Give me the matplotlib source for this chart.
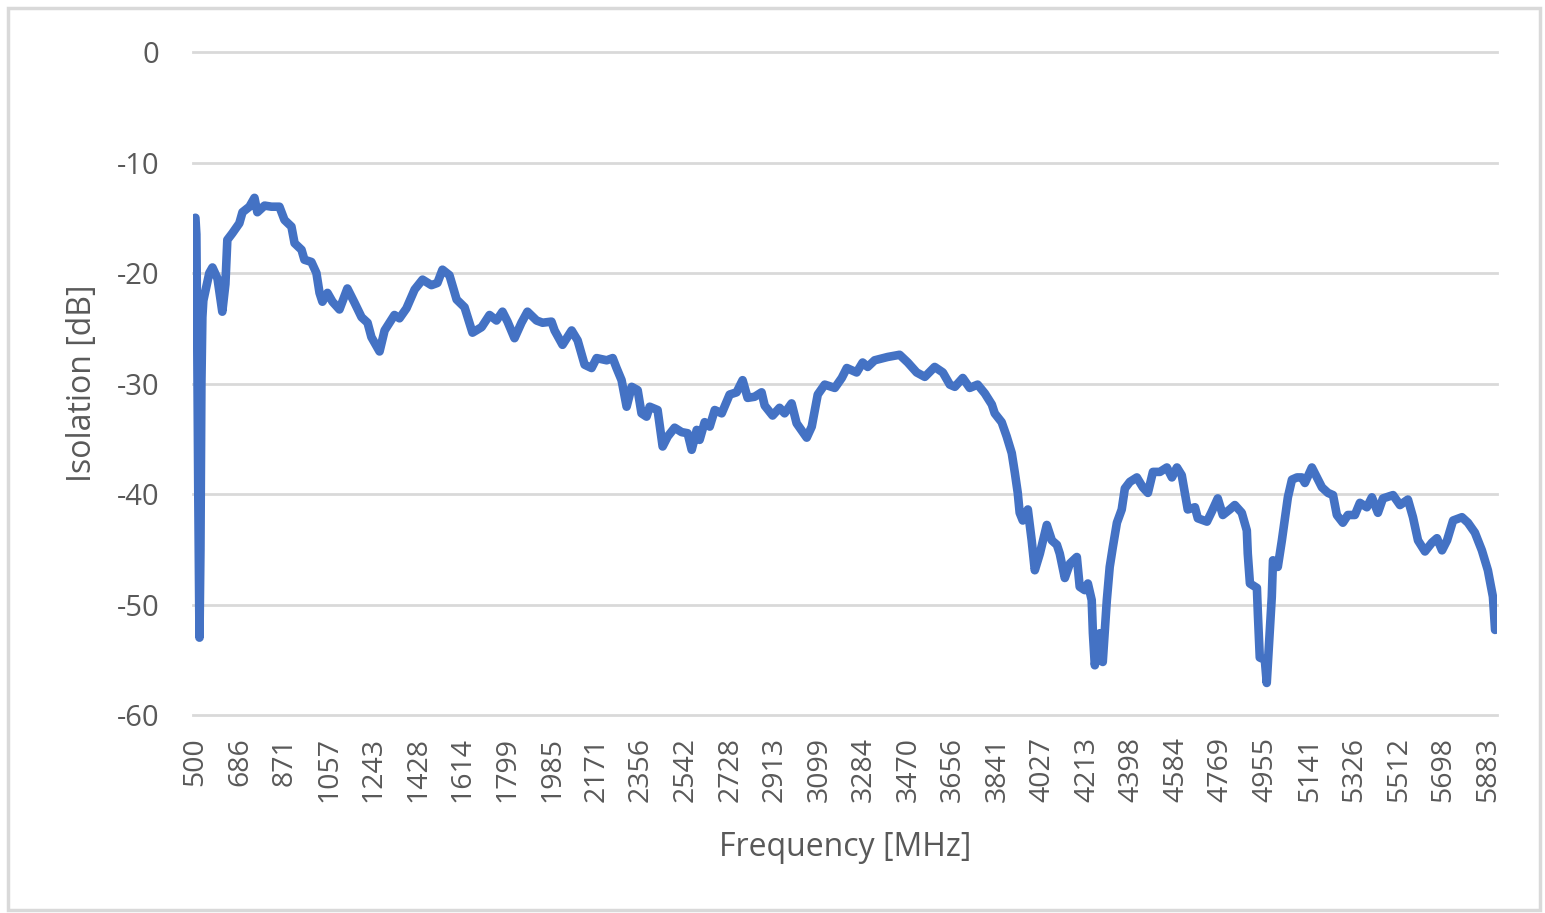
import matplotlib
matplotlib.use("Agg")
import matplotlib.pyplot as plt
from matplotlib.patches import Rectangle

# ---- data ----
freq_mhz = [
    500, 504, 508, 512, 517, 521, 525, 529, 533, 538, 558, 571, 592, 612, 625, 633, 654,
    683, 696, 725, 746, 758, 788, 817, 850, 871, 900, 913, 942, 954, 983, 1004, 1017,
    1029, 1050, 1071, 1100, 1133, 1163, 1192, 1217, 1233, 1267, 1288, 1329, 1350, 1379,
    1413, 1446, 1483, 1508, 1529, 1558, 1588, 1621, 1654, 1692, 1725, 1754, 1779, 1800,
    1829, 1858, 1883, 1921, 1946, 1983, 1996, 2029, 2067, 2092, 2121, 2150, 2171, 2213,
    2238, 2254, 2275, 2296, 2317, 2342, 2358, 2379, 2392, 2425, 2446, 2467, 2496, 2525,
    2550, 2567, 2588, 2600, 2621, 2642, 2663, 2692, 2725, 2754, 2779, 2800, 2829, 2858,
    2871, 2904, 2933, 2954, 2983, 3004, 3046, 3067, 3092, 3121, 3163, 3192, 3213, 3254,
    3279, 3300, 3329, 3383, 3433, 3467, 3504, 3538, 3579, 3613, 3642, 3663, 3696, 3725,
    3758, 3788, 3817, 3829, 3858, 3879, 3900, 3913, 3925, 3933, 3946, 3967, 3983, 3996,
    4017, 4046, 4067, 4088, 4100, 4121, 4142, 4171, 4183, 4204, 4217, 4233, 4238, 4246,
    4267, 4279, 4296, 4308, 4321, 4338, 4358, 4371, 4392, 4421, 4446, 4467, 4488, 4517,
    4546, 4567, 4588, 4608, 4621, 4633, 4663, 4675, 4713, 4733, 4758, 4779, 4808, 4829,
    4858, 4879, 4883, 4892, 4921, 4925, 4933, 4954, 4962, 4971, 4983, 4988, 5008, 5025,
    5038, 5050, 5067, 5088, 5108, 5121, 5150, 5171, 5192, 5217, 5238, 5254, 5279, 5300,
    5329, 5350, 5379, 5400, 5425, 5446, 5488, 5517, 5550, 5571, 5592, 5621, 5650, 5671,
    5692, 5713, 5738, 5775, 5800, 5829, 5858, 5883, 5904, 5913,
]
isolation_db = [
    -15.0, -16.5, -27.0, -40.0, -53.0, -45.0, -30.0, -24.0, -22.5, -22.0, -20.0, -19.5,
    -20.5, -23.5, -21.0, -17.0, -16.4, -15.5, -14.5, -14.0, -13.2, -14.5, -13.9, -14.0,
    -14.0, -15.2, -15.8, -17.3, -17.9, -18.8, -19.0, -20.0, -21.8, -22.6, -21.8, -22.6,
    -23.3, -21.4, -22.7, -24.0, -24.5, -25.8, -27.1, -25.2, -23.8, -24.1, -23.2, -21.5,
    -20.6, -21.1, -20.9, -19.7, -20.2, -22.4, -23.1, -25.4, -24.9, -23.8, -24.3, -23.5,
    -24.4, -25.9, -24.5, -23.5, -24.3, -24.5, -24.4, -25.2, -26.5, -25.2, -26.1, -28.3,
    -28.6, -27.7, -27.9, -27.7, -28.6, -29.7, -32.1, -30.3, -30.6, -32.7, -33.0, -32.1,
    -32.4, -35.7, -34.8, -34.0, -34.4, -34.5, -36.0, -34.2, -35.1, -33.5, -33.9, -32.4,
    -32.7, -31.0, -30.8, -29.7, -31.3, -31.2, -30.8, -32.0, -32.9, -32.2, -32.7, -31.8,
    -33.6, -34.9, -33.9, -31.0, -30.1, -30.4, -29.5, -28.6, -29.0, -28.1, -28.5, -27.9,
    -27.6, -27.4, -28.1, -29.0, -29.4, -28.5, -29.0, -30.1, -30.3, -29.5, -30.4, -30.1,
    -30.9, -31.9, -32.7, -33.5, -34.8, -36.3, -38.1, -39.9, -41.7, -42.4, -41.4, -44.2,
    -46.9, -45.4, -42.8, -44.2, -44.6, -45.4, -47.6, -46.3, -45.7, -48.4, -48.7, -48.1,
    -49.6, -52.6, -55.5, -52.6, -55.2, -49.6, -46.6, -44.8, -42.6, -41.4, -39.5, -38.9,
    -38.5, -39.4, -39.9, -38.0, -38.0, -37.6, -38.5, -37.6, -38.3, -39.9, -41.4, -41.2,
    -42.2, -42.5, -41.6, -40.4, -41.9, -41.4, -41.0, -41.7, -43.3, -45.4, -48.1, -48.5,
    -50.8, -54.8, -55.0, -57.1, -53.8, -49.3, -46.0, -46.6, -44.2, -42.2, -40.3, -38.7,
    -38.5, -38.5, -39.0, -37.6, -38.5, -39.4, -39.9, -40.1, -41.9, -42.6, -41.9, -41.9,
    -40.8, -41.2, -40.3, -41.7, -40.4, -40.1, -41.0, -40.5, -42.1, -44.2, -45.2, -44.4,
    -44.0, -45.1, -44.2, -42.4, -42.1, -42.6, -43.5, -45.1, -46.9, -49.3, -52.3,
]
x_tick_labels = [500, 686, 871, 1057, 1243, 1428, 1614, 1799, 1985, 2171, 2356, 2542,
                 2728, 2913, 3099, 3284, 3470, 3656, 3841, 4027, 4213, 4398, 4584,
                 4769, 4955, 5141, 5326, 5512, 5698, 5883]
y_ticks = [0, -10, -20, -30, -40, -50, -60]

# ---- figure ----
W, H = 1545, 913
fig = plt.figure(figsize=(W / 100, H / 100), dpi=100)
FONT = "Open Sans"
TXT = "#595959"
GRID = "#d9d9d9"

left, right, top, bottom = 193, 1497, 52, 715
ax = fig.add_axes([left / W, 1 - bottom / H, (right - left) / W, (bottom - top) / H])

ax.plot(freq_mhz, isolation_db, color="#4472C4", lw=6.2,
        solid_joinstyle="round", solid_capstyle="round", zorder=3)

ax.set_xlim(490, 5921)
ax.set_ylim(-60, 0)
ax.set_yticks(y_ticks)
ax.set_yticklabels([str(v) for v in y_ticks], fontfamily=FONT, fontsize=21, color=TXT)
ax.set_xticks(x_tick_labels)
ax.set_xticklabels([str(v) for v in x_tick_labels], rotation=90, fontfamily=FONT,
                   fontsize=20.5, color=TXT)
ax.tick_params(axis="both", length=0)
ax.tick_params(axis="y", pad=24)
ax.tick_params(axis="x", pad=16)

ax.grid(axis="y", color=GRID, lw=2)
ax.grid(axis="x", visible=False)
for gl in ax.get_ygridlines():
    gl.set_clip_on(False)
for s in ax.spines.values():
    s.set_visible(False)

ax.set_xlabel("Frequency [MHz]", fontfamily=FONT, fontsize=23, color=TXT)
ax.set_ylabel("Isolation [dB]", fontfamily=FONT, fontsize=23, color=TXT)
ax.xaxis.set_label_coords(0.5, -(848 - bottom) / (bottom - top))
ax.xaxis.label.set_va("center")
ax.yaxis.set_label_coords((82 - left) / (right - left), 0.5)
ax.yaxis.label.set_va("center")

# outer chart border
fig.patches.append(Rectangle((8 / W, 3 / H), (1540 - 8) / W, (H - 11) / H,
                             transform=fig.transFigure, fill=False,
                             edgecolor=GRID, lw=2.5))

fig.savefig("out.png", dpi=100, facecolor="white")
